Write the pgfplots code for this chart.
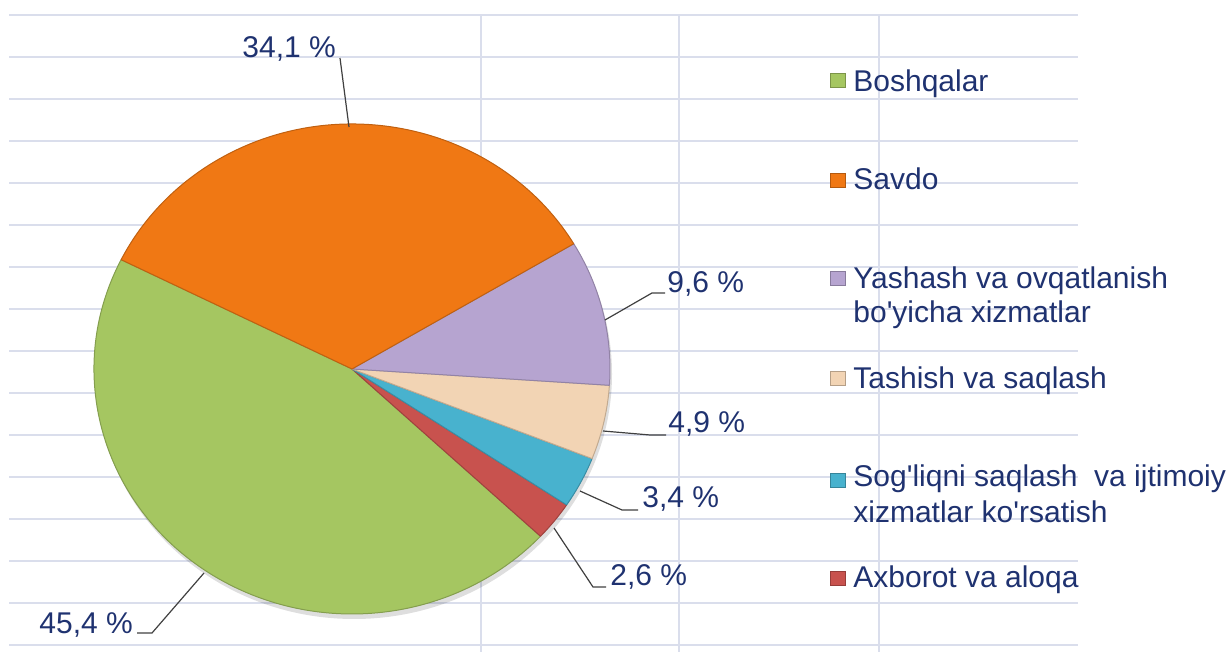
\documentclass[border=0pt]{standalone}
\usepackage{pgfplots}
\pgfplotsset{compat=1.18}
\usepackage{pgfplotstable}
\usepackage{fontspec}
\setmainfont{Liberation Sans}
\definecolor{cgreen}{RGB}{165,198,97}
\definecolor{corange}{RGB}{240,120,20}
\definecolor{clav}{RGB}{182,164,208}
\definecolor{cpeach}{RGB}{242,212,180}
\definecolor{cteal}{RGB}{72,178,206}
\definecolor{cred}{RGB}{200,82,78}
\definecolor{tblue}{RGB}{31,50,112}
\definecolor{gridc}{RGB}{218,222,236}

% slices, counter-clockwise from the green/orange boundary
\pgfplotstableread{
name value color
Boshqalar 45.4 cgreen
Axborot 2.6 cred
Sogliqni 3.4 cteal
Tashish 4.9 cpeach
Yashash 9.6 clav
Savdo 34.1 corange
}\piedata

\begin{document}
\begin{tikzpicture}
\path[use as bounding box] (0,0) rectangle (616pt,326pt);
\begin{axis}[at={(0,0)}, anchor=south west, scale only axis,
  width=616pt, height=326pt,
  xmin=0, xmax=1232, ymin=0, ymax=652, y dir=reverse,
  hide axis, clip=false]
% background grid
\pgfplotsforeachungrouped \k in {15,57,...,645}{%
  \edef\temp{\noexpand\draw[gridc, line width=1pt] (axis cs:9,\k) -- (axis cs:1078,\k);}\temp}
\pgfplotsforeachungrouped \k in {481,679,879}{%
  \edef\temp{\noexpand\draw[gridc, line width=1pt] (axis cs:\k,15) -- (axis cs:\k,652);}\temp}
% shadow
\fill[black, opacity=0.13] (axis cs:354,374) ellipse [x radius=129pt, y radius=122.5pt];
% pie
\def\s{153.5}
\pgfplotsforeachungrouped \i in {0,...,5}{%
  \pgfplotstablegetelem{\i}{value}\of\piedata \let\v\pgfplotsretval
  \pgfplotstablegetelem{\i}{color}\of\piedata \let\c\pgfplotsretval
  \pgfmathsetmacro\e{\s+3.6*\v}%
  \edef\temp{\noexpand\fill[\c, draw=\c!80!black, line width=0.5pt, line join=round]
    (axis cs:352,369) -- ++(\s:129pt and 122.5pt)
    arc[start angle=\s, end angle=\e, x radius=129pt, y radius=122.5pt] -- cycle;}\temp
  \global\let\s\e
}
% leader lines
\draw[black!75, line width=0.6pt] (axis cs:340,58) -- (axis cs:349,127);
\draw[black!75, line width=0.6pt] (axis cs:605,320) -- (axis cs:652,293) -- (axis cs:665,293);
\draw[black!75, line width=0.6pt] (axis cs:603,431) -- (axis cs:650,435) -- (axis cs:666,435);
\draw[black!75, line width=0.6pt] (axis cs:580,491) -- (axis cs:622,510) -- (axis cs:638,510);
\draw[black!75, line width=0.6pt] (axis cs:554,528) -- (axis cs:593,587) -- (axis cs:606,587);
\draw[black!75, line width=0.6pt] (axis cs:204,573) -- (axis cs:152,633) -- (axis cs:137,633);
% data labels
\begin{scope}[every node/.style={anchor=base west, inner sep=0pt, text=tblue, font=\fontsize{15}{18}\selectfont}]
\node at (axis cs:242,58) {34,1 \%};
\node at (axis cs:667,293) {9,6 \%};
\node at (axis cs:668,433) {4,9 \%};
\node at (axis cs:642,508) {3,4 \%};
\node at (axis cs:610,586) {2,6 \%};
\node at (axis cs:39,633) {45,4 \%};
% legend
\node at (axis cs:853,92) {Boshqalar};
\node at (axis cs:853,190) {Savdo};
\node at (axis cs:853,289) {Yashash va ovqatlanish};
\node at (axis cs:853,323) {bo\textquotesingle yicha xizmatlar};
\node at (axis cs:853,389) {Tashish va saqlash};
\node at (axis cs:853,487) {Sog\textquotesingle liqni saqlash\ \ va ijtimoiy};
\node at (axis cs:853,523) {xizmatlar ko\textquotesingle rsatish};
\node at (axis cs:853,588) {Axborot va aloqa};
\end{scope}
\pgfplotsforeachungrouped \y/\c in {80/cgreen,180/corange,278/clav,378/cpeach,480/cteal,578/cred}{%
  \edef\temp{\noexpand\fill[\c, draw=\c!75!black, line width=0.4pt] (axis cs:830,\y-7) rectangle (axis cs:845,\y+7);}\temp}
\end{axis}
\end{tikzpicture}
\end{document}
